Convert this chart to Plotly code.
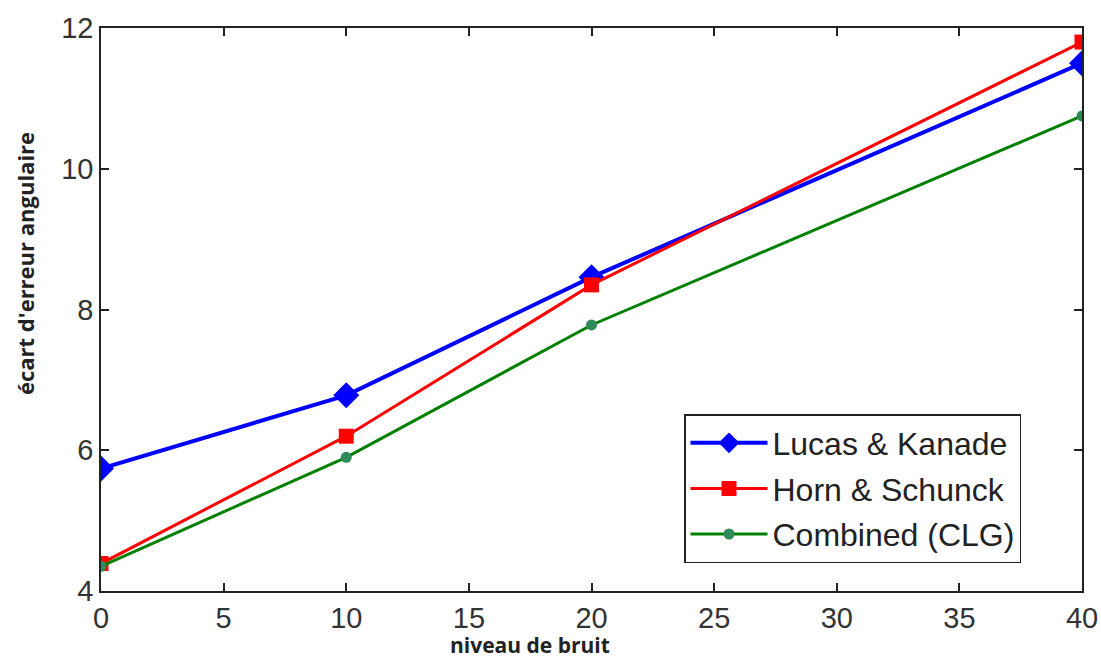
import plotly.graph_objects as go

noise = [0, 10, 20, 40]
lucas_kanade = [5.74, 6.78, 8.46, 11.50]
horn_schunck = [4.39, 6.20, 8.35, 11.80]
clg = [4.35, 5.90, 7.78, 10.75]

x_ticks = [0, 5, 10, 15, 20, 25, 30, 35, 40]
y_ticks = [4, 6, 8, 10, 12]

fig = go.Figure()
fig.add_trace(go.Scatter(x=noise, y=lucas_kanade, mode="lines+markers", name="Lucas & Kanade",
                         legendgroup="a",
                         line=dict(color="#0000ff", width=4),
                         marker=dict(symbol="diamond", size=20, color="#0000ff")))
fig.add_trace(go.Scatter(x=noise, y=horn_schunck, mode="lines+markers", name="Horn & Schunck",
                         legendgroup="b",
                         line=dict(color="#ff0000", width=3),
                         marker=dict(symbol="square", size=15, color="#ff0000")))
fig.add_trace(go.Scatter(x=noise, y=clg, mode="lines+markers", name="Combined (CLG)",
                         legendgroup="c",
                         line=dict(color="#008000", width=3),
                         marker=dict(symbol="circle", size=11, color="#2e8b57")))

axis_common = dict(showgrid=False, zeroline=False, showline=True, linecolor="#222",
                   linewidth=1.5, mirror="ticks", ticks="inside", ticklen=8,
                   tickcolor="#222", tickwidth=1.5, automargin=False,
                   tickfont=dict(family="Liberation Sans, Arial", size=29, color="#333"))

fig.update_xaxes(range=[0, 40], tickvals=x_ticks, **axis_common)
fig.update_yaxes(range=[4, 12], tickvals=y_ticks, **axis_common)

fig.update_layout(
    width=1101, height=658,
    margin=dict(l=101, r=19, t=28, b=67, autoexpand=False),
    paper_bgcolor="white", plot_bgcolor="white",
    showlegend=True,
    legend=dict(x=(684 - 101) / 981, y=(591 - 414) / 563, xanchor="left", yanchor="top",
                bgcolor="white", bordercolor="#222", borderwidth=1.5,
                font=dict(family="Liberation Sans, Arial", size=32, color="#222"),
                itemwidth=77, tracegroupgap=1),
    annotations=[
        dict(text="<b>niveau de bruit</b>", xref="paper", yref="paper",
             x=(530 - 101) / 981, y=(591 - 645) / 563, xanchor="center", yanchor="middle",
             showarrow=False, font=dict(family="Open Sans", size=21, color="#222")),
        dict(text="<b>écart d'erreur angulaire</b>", xref="paper", yref="paper",
             x=(25 - 101) / 981, y=(591 - 264) / 563, xanchor="center", yanchor="middle",
             textangle=-90, showarrow=False,
             font=dict(family="Open Sans", size=22, color="#222")),
    ],
)

fig.write_html("out.html", config={"displayModeBar": False},
               post_script="document.body.style.margin='0';")
